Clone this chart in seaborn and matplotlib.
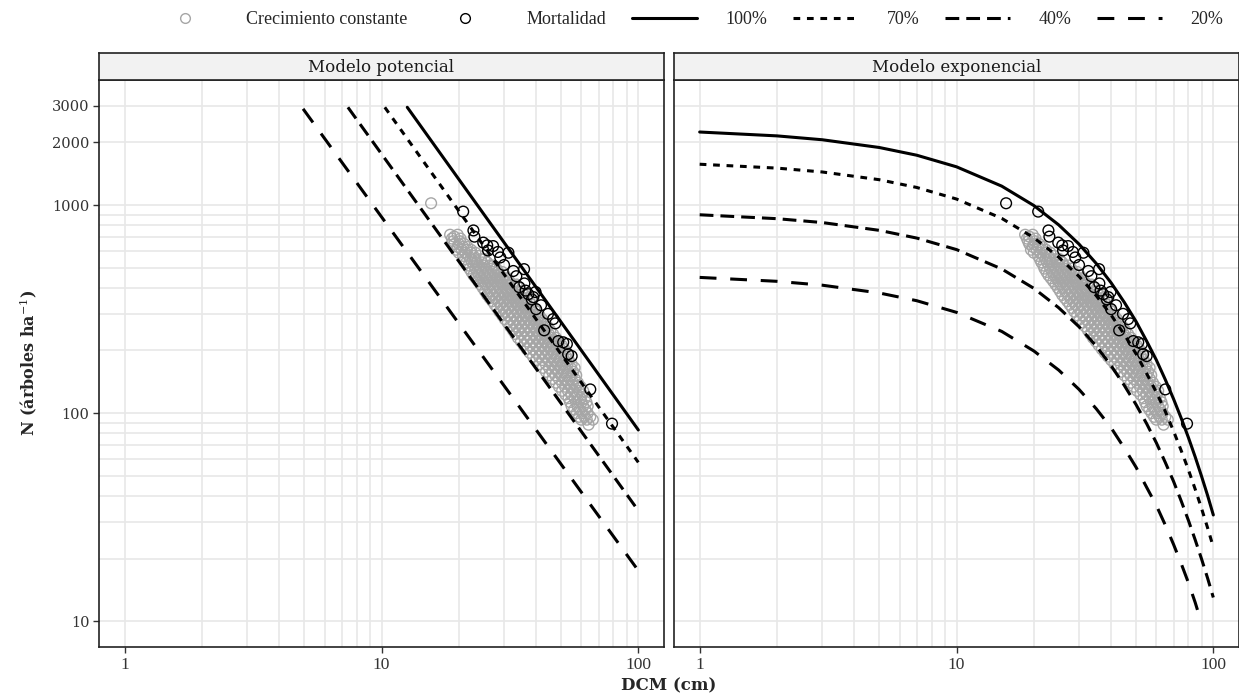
import numpy as np
import pandas as pd
import matplotlib
matplotlib.use("Agg")
import matplotlib.pyplot as plt
import seaborn as sns
from matplotlib.lines import Line2D
from matplotlib.ticker import FixedLocator, NullFormatter, FixedFormatter

sns.set_theme(style="white")
plt.rcParams['font.family'] = ['DejaVu Serif']
plt.rcParams['mathtext.fontset'] = 'dejavuserif'

# ---------------- data ----------------
paneles = ["Modelo potencial", "Modelo exponencial"]
porcentajes = ["100%", "70%", "40%", "20%"]

# power model lines (straight on log-log): endpoints
pot_D_100 = [12.6, 100]
pot_N_100 = [2950, 83]
pot_D_70 = [10.3, 100]
pot_N_70 = [2950, 58]
pot_D_40 = [7.4, 100]
pot_N_40 = [2950, 34]
pot_D_20 = [4.95, 100]
pot_N_20 = [2900, 17.5]

# exponential model curves
exp_D = [1, 2, 3, 5, 7, 10, 15, 20, 25, 30, 35, 40, 45, 50, 55, 60, 65, 70, 75, 80, 85, 90, 95, 100]
exp_N_100 = [2244, 2150, 2060, 1891, 1736, 1527, 1233, 995, 803, 649, 524, 423, 341, 276, 222, 180,
             145, 117, 94.5, 76.3, 61.6, 49.7, 40.2, 32.4]
exp_N_70 = [1571, 1505, 1442, 1324, 1215, 1069, 863, 697, 562, 454, 367, 296, 239, 193, 155, 126,
            102, 82, 66, 53.4, 43.1, 34.8, 28.1, 22.7]
exp_N_40 = [898, 860, 824, 756, 694, 611, 493, 398, 321, 260, 210, 169, 136, 110, 89, 72,
            58, 47, 37.8, 30.5, 24.6, 19.9, 16.1, 13.0]
exp_D_20 = [1, 2, 3, 5, 7, 10, 15, 20, 25, 30, 35, 40, 45, 50, 55, 60, 65, 70, 75, 80, 85, 87]
exp_N_20 = [449, 430, 412, 378, 347, 305, 247, 199, 161, 130, 105, 85, 68, 55, 44, 36,
            29, 23.4, 18.9, 15.3, 12.3, 11.2]

# observed plots: "Crecimiento constante" (grey), rows of equal N
crec_N_filas = [720, 705, 690, 670, 650, 630, 610, 590, 570, 550, 530, 512, 495, 477, 460, 445,
                430, 415, 400, 385, 370, 357, 345, 332, 320, 307, 295, 283, 272, 261, 250, 240,
                230, 221, 212, 203, 195, 187, 180, 172, 165, 158, 152, 146, 140, 134, 128, 123,
                118, 113, 108, 104, 100, 96, 93, 88]
crec_D_filas = [
    [18.5, 19.8],
    [19.2],
    [18.8, 20.3],
    [19.0, 20.2],
    [19.2, 20.0, 21.0],
    [19.8, 20.8, 21.6],
    [19.5, 20.5, 21.5, 22.3],
    [20.0, 21.2, 22.3, 23.2],
    [20.8, 21.8, 22.8, 24.0],
    [21.1, 22.2, 23.2, 24.4, 25.2],
    [21.4, 22.5, 23.5, 24.6, 25.8],
    [21.8, 22.9, 24.0, 25.1, 26.3, 27.3],
    [22.0, 23.2, 24.3, 25.5, 26.8, 28.0],
    [22.4, 23.6, 24.8, 26.0, 27.3, 28.5, 29.5],
    [22.8, 24.0, 25.2, 26.5, 27.8, 29.0, 30.2],
    [23.3, 24.5, 25.7, 27.0, 28.3, 29.6, 30.9],
    [23.8, 25.0, 26.3, 27.6, 28.9, 30.2, 31.5],
    [24.3, 25.5, 26.8, 28.2, 29.5, 30.9, 32.3, 33.6],
    [24.8, 26.0, 27.4, 28.8, 30.2, 31.6, 33.0, 34.3],
    [25.3, 26.6, 28.0, 29.4, 30.8, 32.3, 33.8, 35.2],
    [25.8, 27.2, 28.6, 30.0, 31.5, 33.0, 34.5, 36.0],
    [26.4, 27.8, 29.3, 30.8, 32.2, 33.8, 35.3, 36.8],
    [27.0, 28.5, 30.0, 31.5, 33.0, 34.6, 36.2, 37.6],
    [27.6, 29.1, 30.7, 32.2, 33.8, 35.4, 37.0, 38.5],
    [28.2, 29.8, 31.4, 33.0, 34.6, 36.2, 37.8, 39.4],
    [28.8, 30.4, 32.1, 33.8, 35.4, 37.0, 38.7, 40.3],
    [29.5, 31.1, 32.8, 34.5, 36.2, 37.9, 39.6, 41.2],
    [30.2, 31.9, 33.6, 35.3, 37.1, 38.8, 40.6, 42.2],
    [31.0, 32.7, 34.4, 36.2, 38.0, 39.8, 41.6, 43.2],
    [31.7, 33.5, 35.2, 37.1, 39.0, 40.8, 42.6, 44.3],
    [32.5, 34.3, 36.1, 38.0, 39.9, 41.8, 43.6, 45.4],
    [33.2, 35.1, 37.0, 39.0, 40.9, 42.9, 44.8, 46.6],
    [34.0, 36.0, 38.0, 40.0, 42.0, 44.0, 46.0, 47.8],
    [34.9, 36.9, 39.0, 41.0, 43.1, 45.1, 47.2, 49.0],
    [35.8, 37.9, 40.0, 42.1, 44.2, 46.3, 48.4, 50.3],
    [36.8, 38.9, 41.1, 43.2, 45.4, 47.5, 49.7, 51.5],
    [37.8, 40.0, 42.2, 44.4, 46.6, 48.8, 51.0, 52.8],
    [38.9, 41.1, 43.4, 45.6, 47.9, 50.1, 52.3],
    [40.0, 42.3, 44.6, 46.9, 49.2, 51.5, 53.6],
    [41.2, 43.6, 45.9, 48.3, 50.6, 53.0, 55.0],
    [42.5, 44.9, 47.3, 49.7, 52.1, 54.5, 56.5],
    [43.7, 46.2, 48.6, 51.1, 53.5, 55.8],
    [45.0, 47.5, 50.0, 52.5, 55.0, 57.3],
    [46.4, 49.0, 51.5, 54.1, 56.6],
    [47.8, 50.5, 53.1, 55.7, 58.2],
    [49.1, 51.8, 54.5, 57.2, 59.6],
    [50.5, 53.2, 56.0, 58.8, 61.0],
    [52.0, 54.8, 57.7, 60.4],
    [53.5, 56.5, 59.5, 62.0],
    [54.2, 57.2, 60.2, 62.8],
    [55.0, 58.0, 61.0, 63.5],
    [56.3, 59.2, 62.2],
    [57.5, 60.5, 63.5],
    [58.8, 61.8, 65.0],
    [60.0, 63.0, 66.5],
    [64.0],
]

# "Mortalidad" (black) plots, same in both models
mort_D = [20.8, 22.8, 23.0, 24.9, 26.0, 27.2, 28.4, 25.8, 30.0, 31.2, 32.6, 35.9, 33.5, 34.4, 36.4,
          37.3, 39.0, 38.5, 39.8, 41.8, 40.0, 43.0, 46.6, 47.5, 48.8, 51.0, 52.7, 53.3, 55.0, 65.0,
          79.0, 29.0, 36.0, 44.5]
mort_N = [930, 755, 705, 660, 605, 635, 595, 640, 515, 590, 482, 492, 455, 403, 388,
          373, 361, 352, 382, 330, 316, 250, 283, 270, 222, 219, 215, 192, 188, 130,
          89, 560, 420, 300]
# plot that is "Mortalidad" only in the exponential model
extra_D = [15.6]
extra_N = [1020]

# ---------------- build tables ----------------
crec_D = [d for fila in crec_D_filas for d in fila]
crec_N = [n for n, fila in zip(crec_N_filas, crec_D_filas) for _ in fila]

def puntos(panel):
    g_D = crec_D + (extra_D if panel == paneles[0] else [])
    g_N = crec_N + (extra_N if panel == paneles[0] else [])
    m_D = mort_D + (extra_D if panel == paneles[1] else [])
    m_N = mort_N + (extra_N if panel == paneles[1] else [])
    return (pd.DataFrame({"D": g_D, "N": g_N}), pd.DataFrame({"D": m_D, "N": m_N}))

lineas = {
    paneles[0]: [(pot_D_100, pot_N_100), (pot_D_70, pot_N_70), (pot_D_40, pot_N_40), (pot_D_20, pot_N_20)],
    paneles[1]: [(exp_D, exp_N_100), (exp_D, exp_N_70), (exp_D, exp_N_40), (exp_D_20, exp_N_20)],
}

estilos = {"100%": "", "70%": (2.2, 2.2), "40%": (4.5, 2.3), "20%": (5.5, 4.5)}
gris = "#A6A6A6"
grid_col = "#E8E8E8"
lw = 2.2

# ---------------- figure ----------------
W, H = 1239, 698
fig = plt.figure(figsize=(W / 100, H / 100), dpi=100)

def fx(px): return px / W
def fy(py): return 1 - py / H

top, bot = 80, 647
ax_pos = [(99, 664), (674, 1239)]
xlim = (10 ** -0.1, 10 ** 2.1)
ylim = (10 ** 0.876, 10 ** 3.601)

for i, panel in enumerate(paneles):
    x0, x1 = ax_pos[i]
    ax = fig.add_axes([fx(x0), fy(bot), fx(x1) - fx(x0), fy(top) - fy(bot)])
    ax.set_xscale("log")
    ax.set_yscale("log")

    # grid lines (major + minor)
    xg = [m * 10 ** e for e in range(0, 3) for m in range(1, 10)]
    yg = [m * 10 ** e for e in range(1, 4) for m in range(1, 10)]
    for v in xg:
        if xlim[0] < v < xlim[1]:
            ax.axvline(v, color=grid_col, lw=1.2, zorder=0)
    for v in yg:
        if ylim[0] < v < ylim[1]:
            ax.axhline(v, color=grid_col, lw=1.2, zorder=0)

    gdf, mdf = puntos(panel)
    sns.scatterplot(data=gdf, x="D", y="N", ax=ax, marker="o", s=60, facecolors="none",
                    edgecolor=gris, linewidth=1.0, zorder=2, legend=False)
    sns.scatterplot(data=mdf, x="D", y="N", ax=ax, marker="o", s=60, facecolors="none",
                    edgecolor="black", linewidth=1.0, zorder=3, legend=False)

    rows = []
    for pct, (dd, nn) in zip(porcentajes, lineas[panel]):
        rows.append(pd.DataFrame({"D": dd, "N": nn, "pct": pct}))
    ldf = pd.concat(rows, ignore_index=True)
    sns.lineplot(data=ldf, x="D", y="N", style="pct", dashes=estilos, color="black",
                 lw=lw, ax=ax, legend=False, estimator=None, sort=True, zorder=4)

    ax.set_xlim(*xlim)
    ax.set_ylim(*ylim)
    ax.xaxis.set_major_locator(FixedLocator([1, 10, 100]))
    ax.xaxis.set_major_formatter(FixedFormatter(["1", "10", "100"]))
    ax.xaxis.set_minor_locator(FixedLocator([]))
    ax.xaxis.set_minor_formatter(NullFormatter())
    ax.yaxis.set_major_locator(FixedLocator([10, 100, 1000, 2000, 3000]))
    ax.yaxis.set_major_formatter(FixedFormatter(["10", "100", "1000", "2000", "3000"]))
    ax.yaxis.set_minor_locator(FixedLocator([]))
    ax.yaxis.set_minor_formatter(NullFormatter())
    ax.set_xlabel("")
    ax.set_ylabel("")
    ax.tick_params(axis="x", which="major", direction="out", length=4, width=1, color="#333333",
                   pad=3, labelsize=12.5, labelcolor="#333333", bottom=True)
    for t in ax.get_xticklabels():
        t.set_fontfamily("Liberation Serif")
    if i == 0:
        ax.tick_params(axis="y", which="major", direction="out", length=4, width=1, color="#333333",
                       pad=3, labelsize=10.5, labelcolor="#333333", left=True)
    else:
        ax.tick_params(axis="y", left=False, labelleft=False)
    for s in ax.spines.values():
        s.set_color("#222222")
        s.set_linewidth(1.2)
    ax.set_facecolor("white")

    # strip
    sx = fig.add_axes([fx(x0), fy(top), fx(x1) - fx(x0), fy(53) - fy(top)])
    sx.set_xticks([]); sx.set_yticks([])
    sx.set_facecolor("#F2F2F2")
    for s in sx.spines.values():
        s.set_color("#222222")
        s.set_linewidth(1.2)
    sx.text(0.5, 0.45, panel, ha="center", va="center", fontsize=12, color="#1A1A1A",
            transform=sx.transAxes)

fig.text(fx((99 + 1239) / 2), fy(686), "DCM (cm)", ha="center", va="center", fontsize=12,
         fontweight="bold")
fig.text(fx(28), fy(363), r"N (árboles ha$^{-1}$)", ha="center", va="center", rotation=90,
         fontsize=11.5, fontweight="bold")

handles = [
    Line2D([], [], marker="o", linestyle="none", markerfacecolor="none", markeredgecolor=gris,
           markersize=7, markeredgewidth=1.0),
    Line2D([], [], marker="o", linestyle="none", markerfacecolor="none", markeredgecolor="black",
           markersize=7, markeredgewidth=1.0),
]
for pct in porcentajes:
    h = Line2D([], [], color="black", lw=lw)
    if estilos[pct]:
        h.set_dashes(estilos[pct])
    handles.append(h)
labels = ["Crecimiento constante", "Mortalidad"] + porcentajes
fig.legend(handles, labels, loc="center", bbox_to_anchor=(fx(688), fy(20)), ncol=6, frameon=False,
           handlelength=3.6, handletextpad=1.6, columnspacing=1.4,
           prop={"family": "Liberation Serif", "size": 13})

fig.savefig("out.png", dpi=100, facecolor="white")
